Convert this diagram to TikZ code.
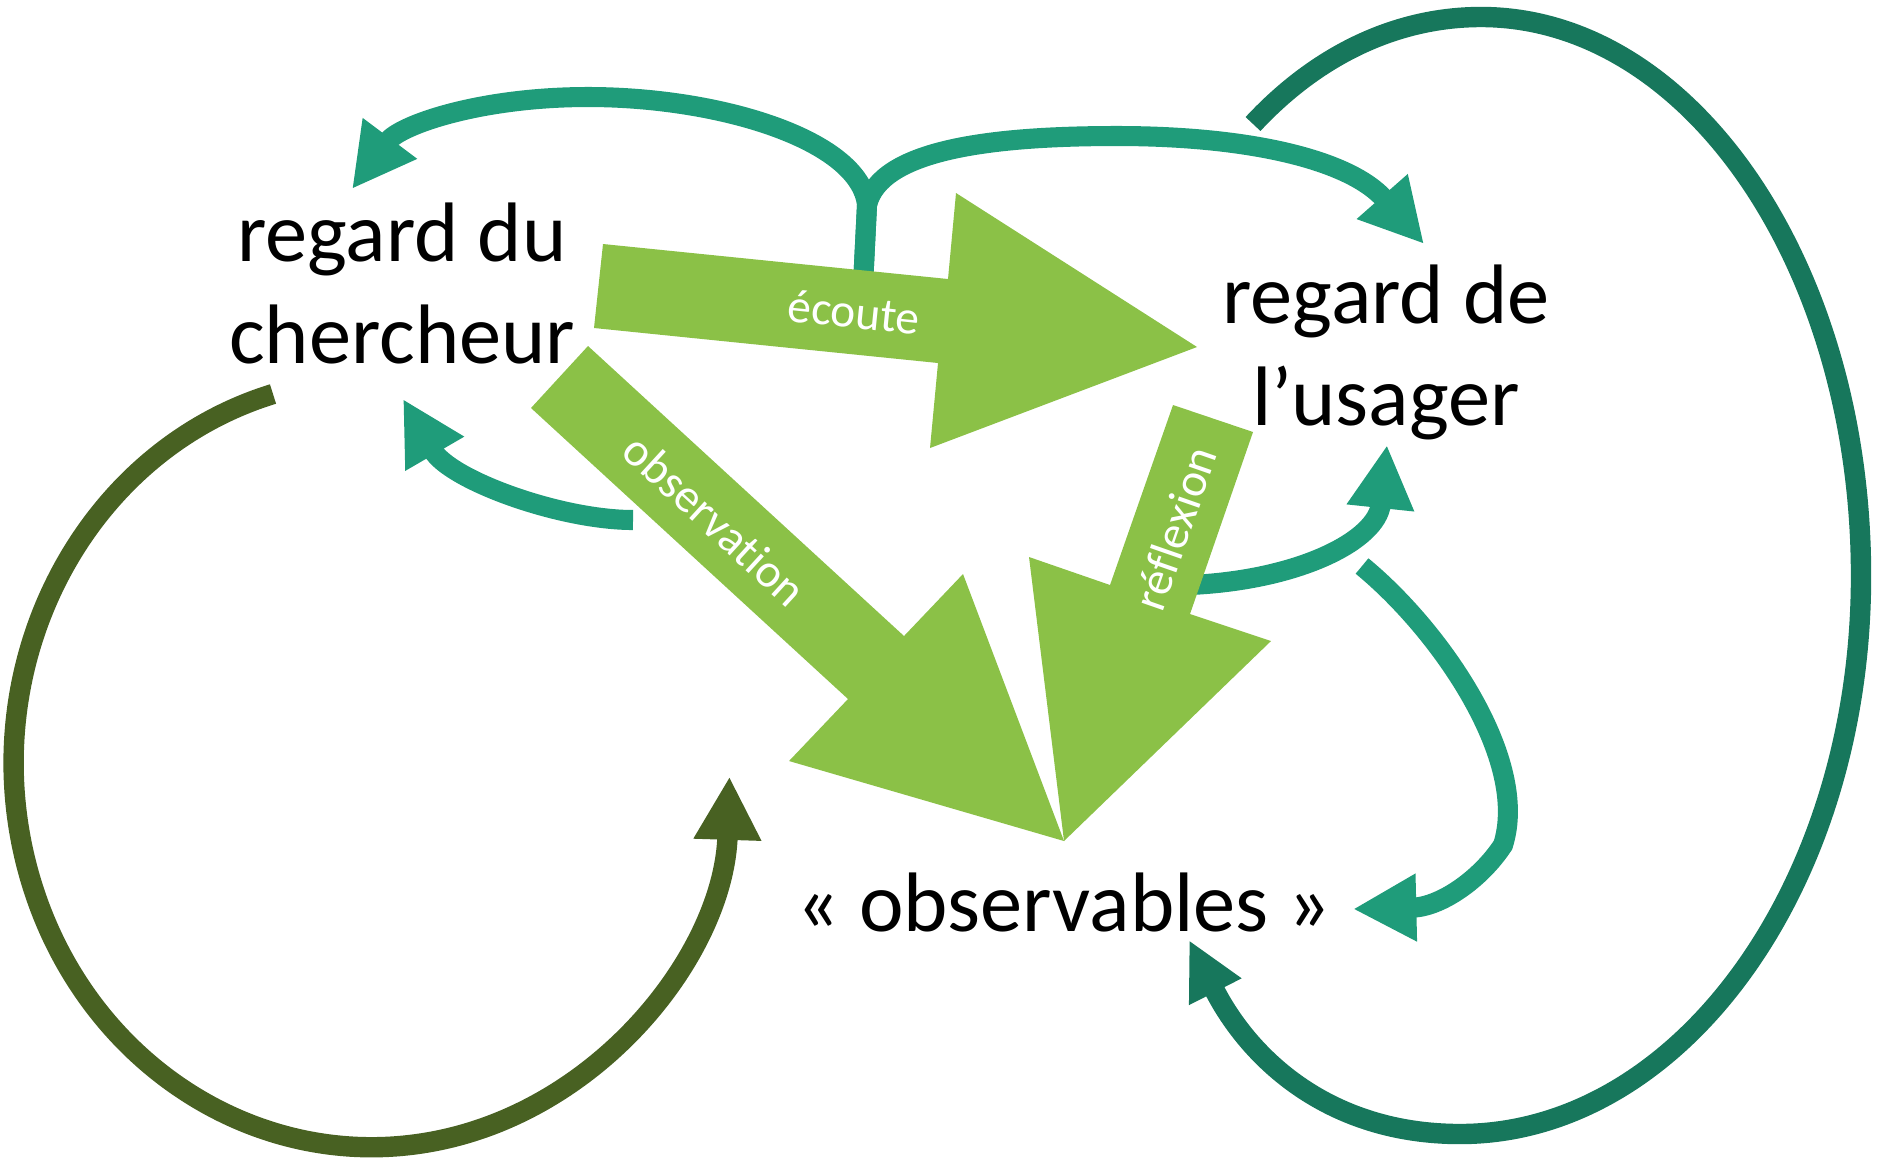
\documentclass[tikz,border=0pt]{standalone}
\usepackage{fontspec}
\setmainfont{Carlito}[Ligatures=CommonOff]
\usepackage{xcolor}
\usepackage{tikz}
\usetikzlibrary{arrows.meta,positioning}

\definecolor{leaf}{RGB}{139,193,71}
\definecolor{sea}{RGB}{31,156,122}
\definecolor{deepsea}{RGB}{23,119,92}
\definecolor{moss}{RGB}{72,97,34}

\begin{document}
\begin{tikzpicture}[
    x=0.01cm, y=-0.01cm,
    title/.style={text=black, font=\fontsize{24}{28.8}\selectfont, align=center, inner sep=0pt, anchor=base},
    flowtext/.style={text=white, font=\fontsize{13.5}{16}\selectfont, inner sep=0pt},
    bigarrow/.style={fill=leaf},
    thinarrow/.style={line width=5.7pt, draw=sea, -{Triangle[length=18pt, width=18pt]}},
    cycleline/.style={line width=5.8pt, -{Triangle[length=18pt, width=18pt]}}
]
    \useasboundingbox (0,0) rectangle (1883,1160);

    \coordinate (splitfoot) at (863,285);
    \coordinate (split) at (867,205);
    \coordinate (tipcherch) at (352,189);
    \coordinate (tipusager) at (1424,244);
    \coordinate (backcherch) at (633,520);
    \coordinate (tipback) at (403,399);
    \coordinate (reflfoot) at (1190,585);
    \coordinate (tipreflex) at (1387,445);
    \coordinate (usagerfoot) at (1362,566);
    \coordinate (tipobs) at (1353,909);
    \coordinate (mossstart) at (273,394);
    \coordinate (deepstart) at (1253,124);
    \coordinate (deeptip) at (1189,940);

    \draw[thinarrow] (splitfoot) -- (split) .. controls (860,140) and (720,97) .. (588,97)
        .. controls (480,97) and (400,125) .. (tipcherch);
    \draw[thinarrow] (splitfoot) -- (split) .. controls (880,150) and (990,136) .. (1117,136)
        .. controls (1250,136) and (1350,160) .. (tipusager);
    \draw[thinarrow] (backcherch) .. controls (560,520) and (450,480) .. (tipback);
    \draw[thinarrow] (reflfoot) .. controls (1300,580) and (1377,540) .. (tipreflex);
    \draw[thinarrow] (usagerfoot) .. controls (1440,630) and (1530,760) .. (1503,845)
        .. controls (1480,880) and (1440,907) .. (tipobs);

    \draw[cycleline, draw=moss] (mossstart) arc[start angle=254, end angle=2, x radius=358, y radius=384];
    \draw[cycleline, draw=deepsea, -{Triangle[length=16.5pt, width=15.5pt]}] (deepstart)
        .. controls (1320,52) and (1400,17) .. (1481,17)
        .. controls (1691,17) and (1861,267) .. (1861,576)
        .. controls (1861,884) and (1681,1134) .. (1460,1134)
        .. controls (1330,1134) and (1250,1060) .. (deeptip);

    \fill[bigarrow] (603,244) -- (948,279) -- (956,193) -- (1197,347) -- (930,448) -- (938,363) -- (594,328) -- cycle;
    \fill[bigarrow] (588,346) -- (904,636) -- (963,574) -- (1064,841) -- (789,761) -- (848,699) -- (531,408) -- cycle;
    \fill[bigarrow] (1173,405) -- (1253,432) -- (1190,614) -- (1271,641) -- (1064,841) -- (1029,557) -- (1110,585) -- cycle;

    \node[flowtext, rotate=-5.8] (ecoute) at (854,312) {écoute};
    \node[flowtext, rotate=-42.5] (observation) at (715,520) {observation};
    \node[flowtext, rotate=70.8] (reflexion) at (1175,528) {réflexion};

    \node[title] (chercheur) at (402,363) {regard du\\chercheur};
    \node[title] (usager) at (1386,425) {regard de\\l’usager};
    \node[title] (observables) at (1064,931) {« observables »};
\end{tikzpicture}
\end{document}
